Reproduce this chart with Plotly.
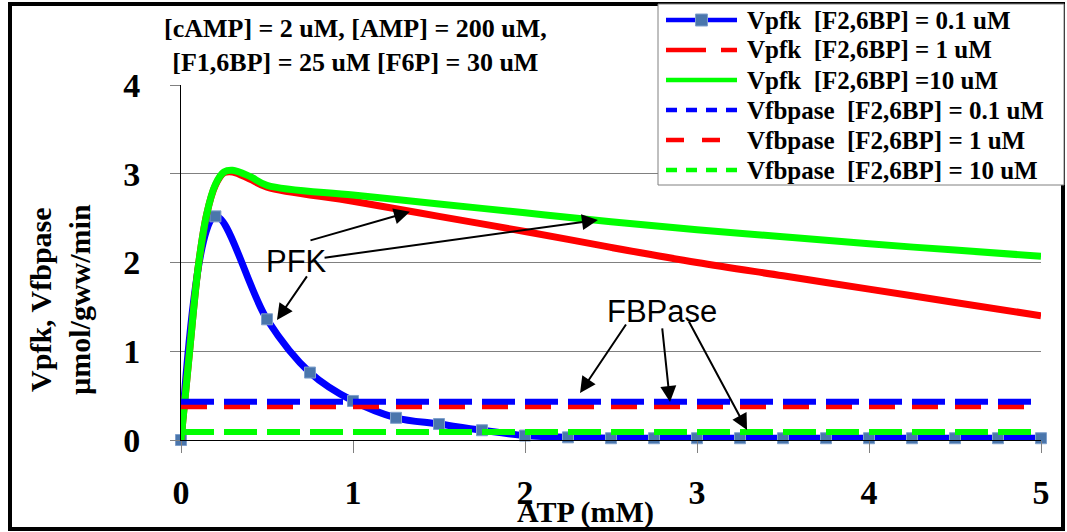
import plotly.graph_objects as go

# ATP concentration (mM) and rates (umol/gww/min)
atp_low = [0, 0.2, 0.5, 0.75, 1.0, 1.25, 1.5, 1.75, 2.0, 2.25, 2.5, 2.75, 3.0,
           3.25, 3.5, 3.75, 4.0, 4.25, 4.5, 4.75, 5.0]
vpfk_01 = [0, 2.52, 1.36, 0.76, 0.44, 0.25, 0.18, 0.11, 0.05, 0.03, 0.02, 0.02, 0.02,
           0.02, 0.02, 0.02, 0.02, 0.02, 0.02, 0.02, 0.02]

atp_hi = [0, 0.05, 0.1, 0.15, 0.2, 0.25, 0.3, 0.4, 0.5, 1.0, 1.5, 2.0, 2.5, 3.0,
          3.5, 4.0, 4.5, 5.0]
vpfk_1 = [0, 1.0, 1.95, 2.55, 2.87, 3.01, 3.02, 2.94, 2.85, 2.69, 2.52, 2.35, 2.17,
          2.0, 1.85, 1.70, 1.55, 1.40]
vpfk_10 = [0, 1.0, 1.95, 2.55, 2.88, 3.02, 3.04, 2.97, 2.87, 2.76, 2.66, 2.56, 2.46,
           2.37, 2.29, 2.21, 2.14, 2.07]

atp_flat = [0, 5]
vfbp_01 = [0.43, 0.43]
vfbp_1 = [0.38, 0.38]
vfbp_10 = [0.09, 0.09]

y_ticks = [0, 1, 2, 3, 4]
x_ticks = [0, 1, 2, 3, 4, 5]

SERIF = "Liberation Serif"
SANS = "Liberation Sans"
NB = "\u00a0"
BLUE, RED, GREEN = "#0000FF", "#FF0000", "#00FF00"
MARKER = "#4A76AC"

# series: label, colour, dash in plot, dash in key, key row; listed in draw order
series = [
    dict(name=f"Vpfk{NB}{NB}[F2,6BP] = 0.1 uM", x=atp_low, y=vpfk_01, color=BLUE,
         dash="solid", key_dash="solid", row=0, width=7, markers=True),
    dict(name=f"Vpfk{NB}{NB}[F2,6BP] = 1 uM", x=atp_hi, y=vpfk_1, color=RED,
         dash="solid", key_dash="40px,15px", row=1, width=7),
    dict(name=f"Vpfk{NB}{NB}[F2,6BP] =10 uM", x=atp_hi, y=vpfk_10, color=GREEN,
         dash="solid", key_dash="solid", row=2, width=7),
    dict(name=f"Vfbpase{NB}{NB}[F2,6BP] = 1 uM", x=atp_flat, y=vfbp_1, color=RED,
         dash="26px,17px", key_dash="18px,18px", row=4, width=6),
    dict(name=f"Vfbpase{NB}{NB}[F2,6BP] = 0.1 uM", x=atp_flat, y=vfbp_01, color=BLUE,
         dash="33px,10px", key_dash="11px,9px", row=3, width=6),
    dict(name=f"Vfbpase{NB}{NB}[F2,6BP] = 10 uM", x=atp_flat, y=vfbp_10, color=GREEN,
         dash="33px,10px", key_dash="11px,9px", row=5, width=6),
]

fig = go.Figure()
for s in series:
    is_curve = len(s["x"]) > 2
    fig.add_trace(go.Scatter(
        x=s["x"], y=s["y"], name=s["name"], showlegend=False,
        mode="lines+markers" if s.get("markers") else "lines",
        line_shape="spline" if is_curve else "linear",
        line=dict(color=s["color"], width=s["width"], dash=s["dash"]),
        marker=dict(symbol="square", size=11, color=MARKER,
                    line=dict(color="#7FA0CC", width=1)),
        cliponaxis=False))

# pixel geometry of the plotting area
L, R, T, B = 181, 1041, 85, 440
W, H = R - L, B - T


def px(xp):
    return (xp - L) / W


def py(yp):
    return (B - yp) / H


annotations = [
    dict(text="[cAMP] = 2 uM, [AMP] = 200 uM,<br>[F1,6BP] = 25 uM [F6P] = 30 uM",
         xref="paper", yref="paper", x=px(355), y=py(46), showarrow=False,
         xanchor="center", yanchor="middle",
         font=dict(family=SERIF, size=26, color="black", weight="bold")),
    dict(text="Vpfk, Vfbpase<br>µmol/gww/min", xref="paper", yref="paper",
         x=px(60), y=py(300), textangle=-90, showarrow=False,
         xanchor="center", yanchor="middle",
         font=dict(family=SERIF, size=30, color="black", weight="bold")),
    dict(text="ATP (mM)", xref="paper", yref="paper", x=px(585), y=py(512),
         showarrow=False, xanchor="center", yanchor="middle",
         font=dict(family=SERIF, size=30, color="black", weight="bold")),
    dict(text="PFK", x=0.674, y=2.007, xref="x", yref="y", showarrow=False,
         font=dict(family=SANS, size=31, color="black")),
    dict(text="FBPase", x=2.797, y=1.443, xref="x", yref="y", showarrow=False,
         font=dict(family=SANS, size=31, color="black")),
]

arrows = [
    (1.331, 2.571, 0.744, 2.244),
    (2.424, 2.480, 0.826, 2.052),
    (0.558, 1.353, 0.738, 1.860),
    (2.320, 0.530, 2.593, 1.319),
    (2.843, 0.428, 2.797, 1.274),
    (3.291, 0.113, 2.948, 1.353),
]
for hx, hy, tx, ty in arrows:
    annotations.append(dict(
        x=hx, y=hy, ax=tx, ay=ty, xref="x", yref="y", axref="x", ayref="y",
        text="", showarrow=True, arrowhead=2, arrowsize=1.6, arrowwidth=2,
        arrowcolor="black", standoff=0))

shapes = [
    # outer frame
    dict(type="rect", xref="paper", yref="paper",
         x0=px(10), x1=px(1063), y0=py(529), y1=py(4),
         line=dict(color="black", width=4), layer="below"),
    # key box
    dict(type="rect", xref="paper", yref="paper",
         x0=px(658), x1=px(1064), y0=py(185), y1=py(4),
         fillcolor="white", line=dict(color="#808080", width=1), layer="above"),
]

# key rows
KEY_X0, KEY_X1, KEY_TEXT, ROW0, ROW_H = 666, 737, 745, 20, 30
for s in series:
    yc = ROW0 + ROW_H * s["row"]
    shapes.append(dict(
        type="line", xref="paper", yref="paper",
        x0=px(KEY_X0), x1=px(KEY_X1), y0=py(yc), y1=py(yc),
        line=dict(color=s["color"], width=4.5, dash=s["key_dash"]),
        layer="above"))
    if s.get("markers"):
        xm = (KEY_X0 + KEY_X1) / 2
        shapes.append(dict(
            type="rect", xref="paper", yref="paper",
            x0=px(xm - 6), x1=px(xm + 6), y0=py(yc + 6), y1=py(yc - 6),
            fillcolor=MARKER, line=dict(color="#7FA0CC", width=1),
            layer="above"))
    annotations.append(dict(
        text=s["name"], xref="paper", yref="paper", x=px(KEY_TEXT), y=py(yc),
        xanchor="left", yanchor="middle", showarrow=False,
        font=dict(family=SERIF, size=25, color="black", weight="bold")))

fig.update_layout(
    width=1067, height=532,
    margin=dict(l=L, r=1067 - R, t=T, b=532 - B),
    paper_bgcolor="white", plot_bgcolor="white",
    showlegend=False,
    annotations=annotations,
    shapes=shapes,
)

fig.update_xaxes(
    range=[0, 5], tickvals=x_ticks, showgrid=False, zeroline=False,
    showline=True, linecolor="black", linewidth=1,
    ticks="outside", ticklen=12, tickcolor="#808080",
    ticklabelstandoff=10,
    tickfont=dict(family=SERIF, size=34, color="black", weight="bold"))
fig.update_yaxes(
    range=[0, 4], tickvals=y_ticks, showgrid=True, gridcolor="#808080",
    gridwidth=1, zeroline=False, showline=True, linecolor="black",
    linewidth=1, ticks="outside", ticklen=10, tickcolor="#808080",
    ticklabelstandoff=23,
    tickfont=dict(family=SERIF, size=34, color="black", weight="bold"))

fig.write_html("out.html")
